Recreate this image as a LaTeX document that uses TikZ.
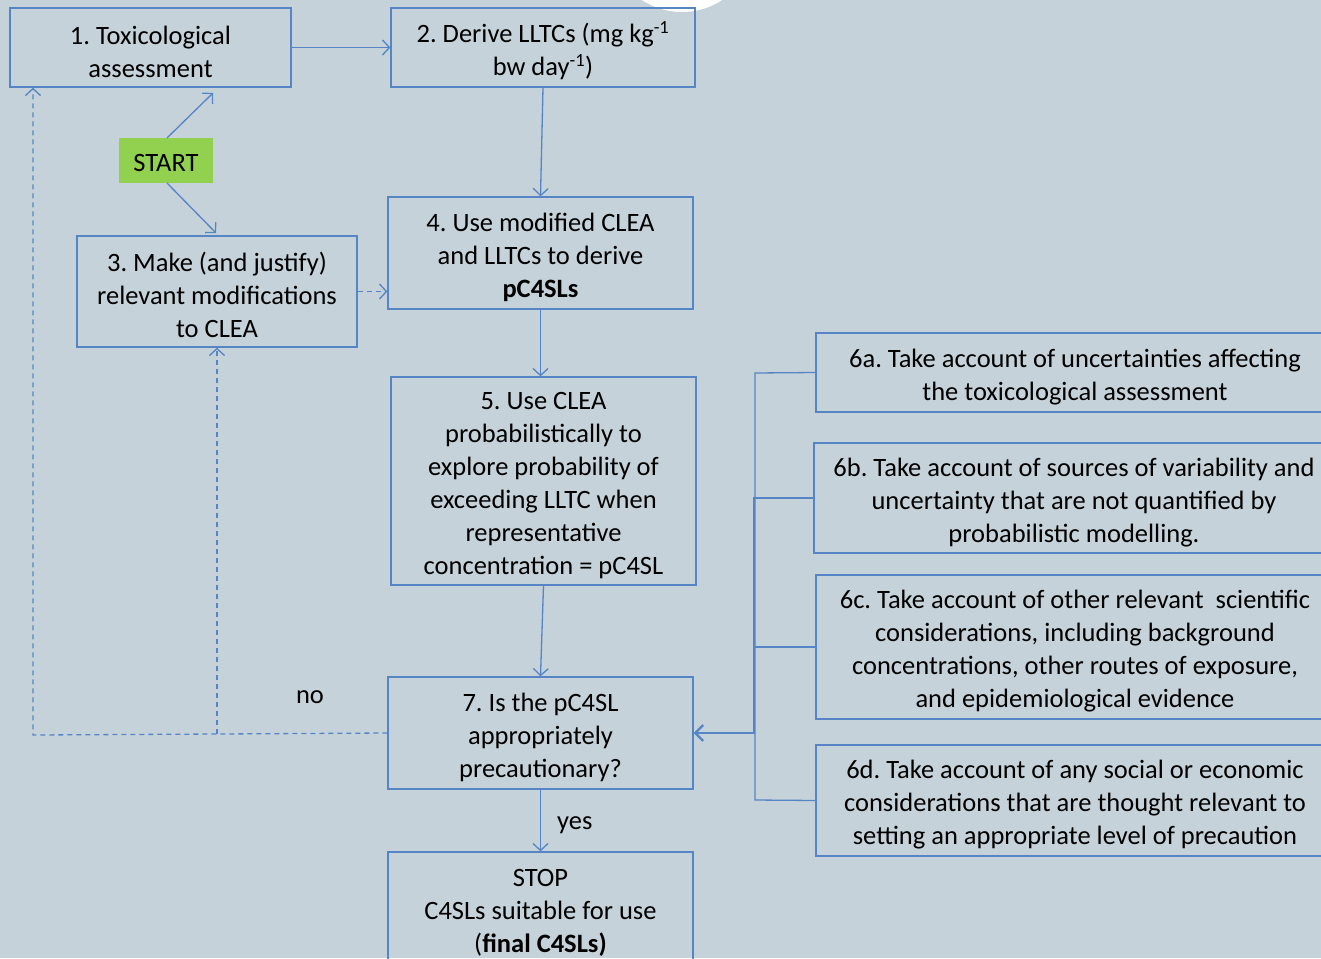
\documentclass[tikz,border=0pt]{standalone}
\usepackage{fontspec}
\setmainfont{Carlito}
\usetikzlibrary{arrows.meta}
\definecolor{bg}{HTML}{C6D2D9}
\definecolor{ln}{HTML}{5585C4}
\definecolor{startg}{HTML}{92D050}
\newcommand\tp{\rule{0pt}{27pt}}
\tikzset{
  box/.style={draw=ln, line width=1.3pt, rectangle, inner sep=0pt, align=center, font=\fontsize{26.5}{33}\selectfont},
  conn/.style={draw=ln, line width=1.3pt, -{Straight Barb[length=7pt,width=15pt]}},
  dconn/.style={conn, dashed, dash pattern=on 5pt off 4pt},
  plain/.style={draw=ln, line width=1.3pt},
  lbl/.style={font=\fontsize{26.5}{33}\selectfont, inner sep=0pt}
}
\begin{document}
\frenchspacing
\begin{tikzpicture}[x=1pt,y=-1pt]
\useasboundingbox (0,0) rectangle (1321,958);
\clip (0,0) rectangle (1321,958);
\fill[bg] (0,0) rectangle (1321,958);
\fill[white] (682,-61) circle (73);
\node[box, minimum width=281pt, minimum height=79pt] (b1) at (150.5,47.5) {\tp 1. Toxicological\\assessment};
\node[box, minimum width=304pt, minimum height=79pt] (b2) at (543,47.5) {\tp 2. Derive LLTCs (mg kg\textsuperscript{-1}\\bw day\textsuperscript{-1})};
\node[box, minimum width=280pt, minimum height=111pt] (b3) at (217,291.5) {\tp 3. Make (and justify)\\relevant modifications\\to CLEA};
\node[box, minimum width=305pt, minimum height=112pt] (b4) at (540.5,253) {\tp 4. Use modified CLEA\\and LLTCs to derive\\\textbf{pC4SLs}};
\node[box, minimum width=305pt, minimum height=208pt] (b5) at (543.5,481) {\tp 5. Use CLEA\\probabilistically to\\explore probability of\\exceeding LLTC when\\representative\\concentration = pC4SL};
\node[box, minimum width=305pt, minimum height=112pt] (b7) at (540.5,733) {\tp 7. Is the pC4SL\\appropriately\\precautionary?};
\node[box, minimum width=305pt, minimum height=112pt] (stop) at (540.5,908) {\tp STOP\\C4SLs suitable for use\\(\textbf{final C4SLs)}};
\node[box, minimum width=518pt, minimum height=79pt] (b6a) at (1075,372.5) {\tp 6a. Take account of uncertainties affecting\\the toxicological assessment};
\node[box, minimum width=520pt, minimum height=110pt] (b6b) at (1074,498) {\tp 6b. Take account of sources of variability and\\uncertainty that are not quantified by\\probabilistic modelling.};
\node[box, minimum width=518pt, minimum height=144pt] (b6c) at (1075,647) {\tp 6c. Take account of other relevant\ \ scientific\\considerations, including background\\concentrations, other routes of exposure,\\and epidemiological evidence};
\node[box, minimum width=518pt, minimum height=111pt] (b6d) at (1075,800.5) {\tp 6d. Take account of any social or economic\\considerations that are thought relevant to\\setting an appropriate level of precaution};
\node[box, draw=none, fill=startg, minimum width=94pt, minimum height=45pt] (start) at (166,160.5) {\rule{0pt}{23pt}START};
% connectors
\draw[conn] (b1.east) -- (b2.west);
\draw[conn] (b2.south) -- (b4.north);
\coordinate (s1) at (167,138);
\coordinate (e1) at (213,93);
\draw[conn] (s1) -- (e1);
\coordinate (s3) at (167,183);
\coordinate (e3) at (216,233);
\draw[conn] (s3) -- (e3);
\draw[dconn] (b3.east) -- (b4.west |- b3.east);
\draw[conn] (b4.south) -- (b5.north -| b4.south);
\draw[conn] (b5.south) -- (b7.north);
\draw[conn] (b7.south) -- node[lbl, right=16pt, yshift=-5pt] {yes} (stop.north);
% no loop
\coordinate (nl) at (33,735);
\coordinate (nm) at (217,734);
\draw[dconn] (b7.west) -- (nm) -- (nl) -- (nl |- b1.south);
\draw[dconn] (nm) -- (nm |- b3.south);
\node[lbl] (no) at (310,697) {no};
% bracket
\coordinate (v1) at (755,373);
\coordinate (v4) at (755,800);
\draw[plain] (b6a.west) -- (v1) -- (v4) -- (b6d.west);
\draw[plain] (b6b.west) -- (b6b.west -| v1);
\draw[plain] (b6c.west) -- (b6c.west -| v1);
\coordinate (vb) at (754,497);
\draw[draw=ln, line width=2.2pt, -{Straight Barb[length=8pt,width=16pt]}] (vb) -- (754,733) -- (b7.east);
\end{tikzpicture}
\end{document}
